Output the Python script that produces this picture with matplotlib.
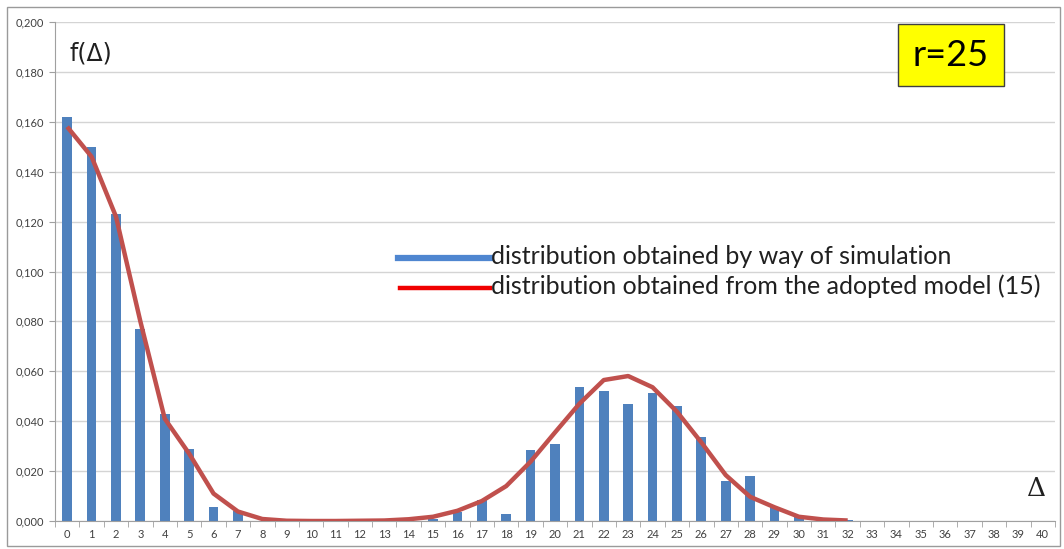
import matplotlib
matplotlib.use("Agg")
import matplotlib.pyplot as plt
from matplotlib.patches import Rectangle
from matplotlib.lines import Line2D
import numpy as np

# delta values 0..40
delta = list(range(41))

# simulated distribution (bars)
sim = [0.162, 0.150, 0.123, 0.077, 0.043, 0.029, 0.0055, 0.004, 0.0, 0.0,
       0.0, 0.0, 0.0, 0.0, 0.0, 0.001, 0.0035, 0.0084, 0.0028, 0.0283,
       0.0307, 0.0536, 0.0522, 0.0468, 0.0512, 0.0461, 0.0335, 0.016, 0.0182, 0.0057,
       0.0017, 0.0, 0.0004, 0.0, 0.0, 0.0, 0.0, 0.0, 0.0, 0.0, 0.0]

# model (15), drawn for delta 0..32
model_x = list(range(33))
model = [0.158, 0.146, 0.122, 0.080, 0.041, 0.027, 0.011, 0.0038, 0.0008, 0.0001,
         0.0, 0.0, 0.0001, 0.0002, 0.0007, 0.0017, 0.0041, 0.008, 0.014, 0.0238,
         0.0355, 0.047, 0.0565, 0.0581, 0.0536, 0.0438, 0.0315, 0.0184, 0.0097, 0.0055,
         0.0017, 0.0006, 0.0002]

yticks = np.arange(0, 0.2001, 0.02)
ytick_labels = ["%.3f" % v for v in yticks]
ytick_labels = [s.replace(".", ",") for s in ytick_labels]

plt.rcParams['font.family'] = ['Lato', 'DejaVu Sans']

fig = plt.figure(figsize=(10.64, 5.49), dpi=100)
ax = fig.add_axes([55 / 1064, 28 / 549, 1000 / 1064, 499 / 549])

ax.bar(delta, sim, width=0.4, color='#4F81BD', zorder=2)
ax.plot(model_x, model, color='#C0504D', lw=3.2, zorder=3, solid_capstyle='butt')

ax.set_xlim(-0.5, 40.5)
ax.set_ylim(0, 0.2)
ax.set_yticks(yticks)
ax.set_yticklabels(ytick_labels)
ax.set_xticks(delta)
ax.set_xticks(np.arange(-0.5, 41, 1), minor=True)
ax.tick_params(axis='x', which='major', length=0, labelsize=8, colors='#404040', pad=6)
ax.tick_params(axis='x', which='minor', length=4, color='#A0A0A0', direction='out')
ax.tick_params(axis='y', length=4, color='#A0A0A0', labelsize=8, colors='#404040', pad=4)
ax.tick_params(axis='y', color='#A0A0A0')
ax.yaxis.grid(True, color='#D4D4D4', lw=1, zorder=0)
ax.set_axisbelow(True)
for s in ['top', 'right']:
    ax.spines[s].set_visible(False)
for s in ['left', 'bottom']:
    ax.spines[s].set_color('#A0A0A0')

# axis captions
ax.text(0.015, 0.96, "f(Δ)", transform=ax.transAxes, fontsize=17, family=['DejaVu Sans'],
        va='top', ha='left', color='#202020')
ax.text(0.982, 0.04, "Δ", transform=ax.transAxes, fontsize=19, family=['DejaVu Serif'],
        va='bottom', ha='center', color='#202020')

# r=25 box
fig.text(951 / 1064, 1 - 55 / 549, "r=25", fontsize=26, ha='center', va='center',
         bbox=dict(boxstyle='square,pad=0.4', fc='#FFFF00', ec='#404040', lw=1))

# legend drawn as lines + text
fig.add_artist(Line2D([398 / 1064, 490 / 1064], [1 - 258 / 549, 1 - 258 / 549],
                      color='#4F86D0', lw=4.5))
fig.add_artist(Line2D([400 / 1064, 490 / 1064], [1 - 288 / 549, 1 - 288 / 549],
                      color='#F00000', lw=3.2))
fig.text(491 / 1064, 1 - 256 / 549, "distribution obtained by way of simulation",
         fontsize=18, va='center', ha='left', color='#202020')
fig.text(491 / 1064, 1 - 286 / 549, "distribution obtained from the adopted model (15)",
         fontsize=18, va='center', ha='left', color='#202020')

# outer frame
fig.add_artist(Rectangle((7 / 1064, 3 / 549), 1053 / 1064, 539 / 549, fill=False,
                         ec='#9A9A9A', lw=1, transform=fig.transFigure))

fig.savefig("out.png", dpi=100)
